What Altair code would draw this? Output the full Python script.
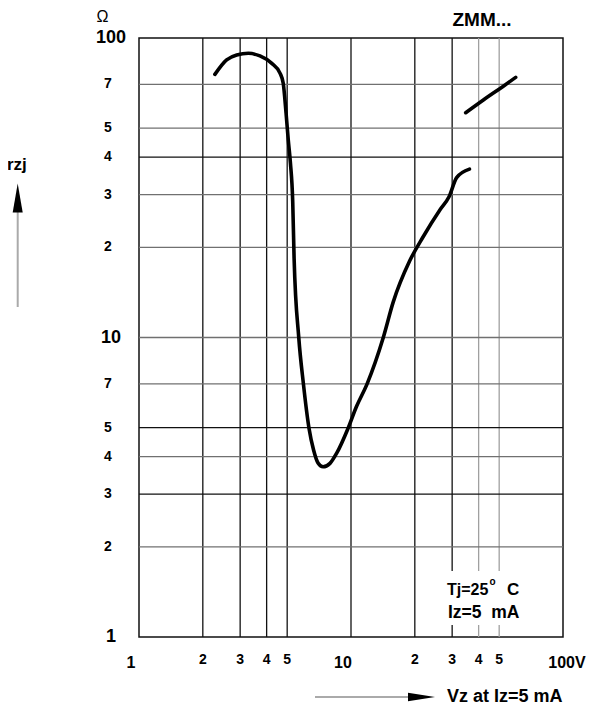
import altair as alt
import pandas as pd

# ---- data (Vz in V, rzj in ohm) ----
VZ_MAIN = [2.28, 2.59, 2.89, 3.28, 3.72, 4.23, 4.63, 4.79, 4.94, 5.06, 5.18, 5.31, 5.39,
           5.67, 5.96, 6.34, 6.66, 6.99, 7.38, 7.96, 8.56, 9.68, 10.6, 11.9, 14.2, 15.8,
           18.9, 21.9, 26.3, 29.0, 31.5, 36.2]
RZJ_MAIN = [75.6, 84.5, 87.8, 88.9, 87.1, 82.3, 76.2, 70.6, 56.1, 45.6, 38.2, 28.4, 18.4,
            10.0, 7.03, 4.97, 4.21, 3.81, 3.70, 3.80, 4.11, 4.97, 5.87, 6.99, 10.0, 13.1,
            18.0, 21.7, 26.7, 29.5, 34.2, 36.5]
VZ_HIGH = [34.75, 42.1, 53.3, 59.8]
RZJ_HIGH = [56.3, 62.1, 69.7, 73.9]

X_SMALL = [2, 3, 4, 5, 20, 30, 40, 50]
X_SMALL_LBL = ["2", "3", "4", "5", "2", "3", "4", "5"]
X_BIG = [1, 10]
X_BIG_LBL = ["1", "10"]
X_END = [100]
X_END_LBL = ["100V"]
Y_SMALL = [2, 3, 4, 5, 7, 20, 30, 40, 50, 70]
Y_SMALL_LBL = ["2", "3", "4", "5", "7", "2", "3", "4", "5", "7"]
Y_BIG = [1, 10, 100]
Y_BIG_LBL = ["1", "10", "100"]

V_GRID = [2, 3, 4, 5, 10, 20, 30, 40, 50]
V_TONE = ["dark", "dark", "dark", "dark", "dark", "dark", "dark", "light", "light"]
H_GRID = [2, 3, 4, 5, 7, 10, 20, 30, 40, 50, 70]
H_TONE = ["mid", "dark", "mid", "dark", "mid", "mid", "mid", "mid", "dark", "mid", "mid"]

W, H = 424, 599
FONT = "Liberation Sans"

curve = pd.DataFrame({
    "vz": VZ_MAIN + VZ_HIGH,
    "rzj": RZJ_MAIN + RZJ_HIGH,
    "seg": ["main"] * len(VZ_MAIN) + ["high"] * len(VZ_HIGH),
    "i": list(range(len(VZ_MAIN))) + list(range(len(VZ_HIGH))),
})
vgrid = pd.DataFrame({"v": V_GRID, "tone": V_TONE})
hgrid = pd.DataFrame({"r": H_GRID, "tone": H_TONE})
one = pd.DataFrame({"k": [0]})

xscale = alt.Scale(type="log", domain=[1, 100], nice=False)
yscale = alt.Scale(type="log", domain=[1, 100], nice=False)
tone_scale = alt.Scale(domain=["dark", "mid", "light"],
                       range=["#111111", "#707070", "#a0a0a0"])

vlines = alt.Chart(vgrid).mark_rule(strokeWidth=1.3).encode(
    x=alt.X("v:Q", scale=xscale, axis=None),
    color=alt.Color("tone:N", scale=tone_scale, legend=None),
)
hlines = alt.Chart(hgrid).mark_rule(strokeWidth=1.3).encode(
    y=alt.Y("r:Q", scale=yscale, axis=None),
    color=alt.Color("tone:N", scale=tone_scale, legend=None),
)

# white background behind the condition note (breaks the grid lines there)
note_bg = alt.Chart(one).mark_rect(color="white").encode(
    x=alt.value(305), x2=alt.value(389), y=alt.value(533), y2=alt.value(587)
)

line = alt.Chart(curve).mark_line(color="#000", strokeWidth=3.6, interpolate="monotone",
                                  strokeCap="round", strokeJoin="round").encode(
    x=alt.X("vz:Q", scale=xscale, axis=None),
    y=alt.Y("rzj:Q", scale=yscale, axis=None),
    detail="seg:N",
    order="i:Q",
)


def xlabels(vals, lbls, size, ypos, dx=0):
    df = pd.DataFrame({"v": vals, "t": lbls})
    return alt.Chart(df).mark_text(
        font=FONT, fontSize=size, fontWeight="bold", align="center",
        baseline="middle", color="#000", dx=dx
    ).encode(x=alt.X("v:Q", scale=xscale, axis=None), y=alt.value(ypos), text="t:N")


def ylabels(vals, lbls, size, xpos):
    df = pd.DataFrame({"v": vals, "t": lbls})
    return alt.Chart(df).mark_text(
        font=FONT, fontSize=size, fontWeight="bold", align="center",
        baseline="middle", color="#000"
    ).encode(y=alt.Y("v:Q", scale=yscale, axis=None), x=alt.value(xpos), text="t:N")


tick_labels = [
    xlabels(X_SMALL, X_SMALL_LBL, 14, 622),
    xlabels(X_BIG, X_BIG_LBL, 16, 625, dx=-8),
    xlabels(X_END, X_END_LBL, 16, 625, dx=4),
    ylabels(Y_SMALL, Y_SMALL_LBL, 14, -31),
    ylabels(Y_BIG, Y_BIG_LBL, 18, -28),
]


def txt(s, x, y, size, weight="bold", align="left", baseline="middle"):
    return alt.Chart(one).mark_text(
        text=s, font=FONT, fontSize=size, fontWeight=weight, align=align,
        baseline=baseline, color="#000"
    ).encode(x=alt.value(x), y=alt.value(y))


texts = [
    txt("Ω", -36.5, -21, 16, weight="normal", align="center"),
    txt("ZMM...", 343, -18, 19, align="center"),
    txt("rzj", -132, 127, 17),
    txt("Tj=25", 308, 557, 16, baseline="alphabetic"),
    txt("o", 350.5, 547, 10, baseline="alphabetic"),
    txt("C", 368, 557, 17, baseline="alphabetic"),
    txt("Iz=5\u00a0\u00a0mA", 309, 580, 17.5, baseline="alphabetic"),
    txt("Vz at Iz=5 mA", 308, 659, 18),
]

# arrows
v_arrow = alt.Chart(one).mark_rule(color="#aaaaaa", strokeWidth=2).encode(
    x=alt.value(-121.3), y=alt.value(269), y2=alt.value(172))
v_head = alt.Chart(one).mark_point(
    shape="M0,-1L0.345,1L-0.345,1Z", size=841, filled=True, color="#000", opacity=1
).encode(x=alt.value(-121.3), y=alt.value(160))
h_arrow = alt.Chart(one).mark_rule(color="#aaaaaa", strokeWidth=2).encode(
    x=alt.value(176), x2=alt.value(272), y=alt.value(659))
h_head = alt.Chart(one).mark_point(
    shape="M1,0L-1,-0.31L-1,0.31Z", size=729, filled=True, color="#000", opacity=1
).encode(x=alt.value(282.5), y=alt.value(659))

chart = alt.layer(
    vlines, hlines, note_bg, line, *tick_labels, *texts, v_arrow, v_head, h_arrow, h_head
).properties(
    width=W, height=H,
    autosize=alt.AutoSizeParams(type="none"),
    padding={"left": 131, "top": 30, "right": 25, "bottom": 70},
    background="white",
).configure_view(stroke="#111", strokeWidth=1.5)

chart.save("out.html", embed_options={"renderer": "svg", "actions": False})
